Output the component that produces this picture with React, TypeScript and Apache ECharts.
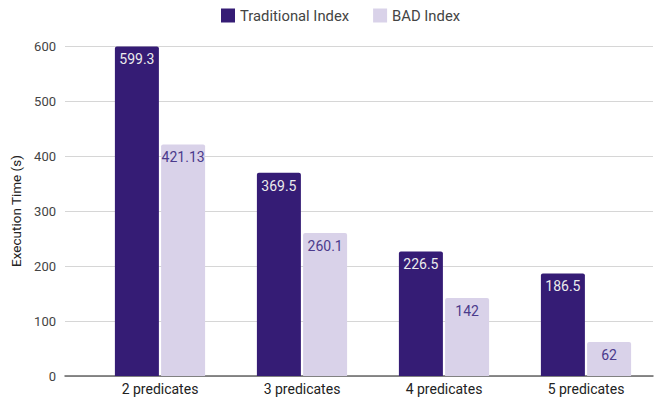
import React, { useEffect, useRef } from "react";
import * as echarts from "echarts";

const categories = ["2 predicates", "3 predicates", "4 predicates", "5 predicates"];
const traditional = [599.3, 369.5, 226.5, 186.5];
const bad = [421.13, 260.1, 142, 62];
const yTicks = { min: 0, max: 600, interval: 100 };

export default function App() {
  const ref = useRef<HTMLDivElement>(null);
  useEffect(() => {
    const chart = echarts.init(ref.current!, null, { renderer: "svg" });
    const font = "Roboto, Arial, sans-serif";
    chart.setOption({
      animation: false,
      textStyle: { fontFamily: font },
      legend: {
        top: 3,
        left: 216,
        icon: "rect",
        itemWidth: 14,
        itemHeight: 14,
        itemGap: 24,
        textStyle: { fontSize: 14.8, color: "#444", fontFamily: font },
        data: ["Traditional Index", "BAD Index"],
      },
      grid: [
        { left: 65, right: 4, top: 46, bottom: 24 },
        { left: 89, right: 0, top: 46, bottom: 24 },
      ],
      xAxis: [
        {
          type: "value",
          gridIndex: 0,
          min: 0,
          max: 1,
          axisLine: { show: true, lineStyle: { color: "#666", width: 1.5 } },
          axisTick: { show: false },
          axisLabel: { show: false },
          splitLine: { show: false },
        },
        {
          type: "category",
          gridIndex: 1,
          data: categories,
          axisLine: { show: false },
          axisTick: { show: false },
          axisLabel: { fontSize: 14, color: "#222", margin: 6, fontFamily: font },
        },
      ],
      yAxis: [
        {
          type: "value",
          gridIndex: 0,
          ...yTicks,
          name: "Execution Time (s)",
          nameLocation: "middle",
          nameGap: 41,
          nameTextStyle: { fontSize: 13.5, color: "#222", fontFamily: font },
          axisLine: { show: false },
          axisTick: { show: false },
          axisLabel: { fontSize: 13, color: "#444", margin: 9, fontFamily: font },
          splitLine: { lineStyle: { color: "#d6d6d6" } },
        },
        {
          type: "value",
          gridIndex: 1,
          ...yTicks,
          show: false,
          splitLine: { show: false },
        },
      ],
      series: [
        {
          name: "Traditional Index",
          type: "bar",
          xAxisIndex: 1,
          yAxisIndex: 1,
          data: traditional,
          barWidth: 44,
          barGap: "5%",
          itemStyle: { color: "#351c75", borderRadius: [2, 2, 0, 0] },
          label: {
            show: true,
            position: "insideTop",
            distance: 6,
            fontSize: 14,
            color: "#ececec",
            fontFamily: font,
          },
        },
        {
          name: "BAD Index",
          type: "bar",
          xAxisIndex: 1,
          yAxisIndex: 1,
          data: bad,
          barWidth: 44,
          barGap: "5%",
          itemStyle: { color: "#d9d2e9", borderRadius: [2, 2, 0, 0] },
          label: {
            show: true,
            position: "insideTop",
            distance: 6,
            fontSize: 14,
            color: "#4b3a8c",
            fontFamily: font,
          },
        },
      ],
    });
    return () => chart.dispose();
  }, []);
  return <div ref={ref} style={{ width: 657, height: 400, position: "absolute", left: 0, top: 0 }} />;
}
